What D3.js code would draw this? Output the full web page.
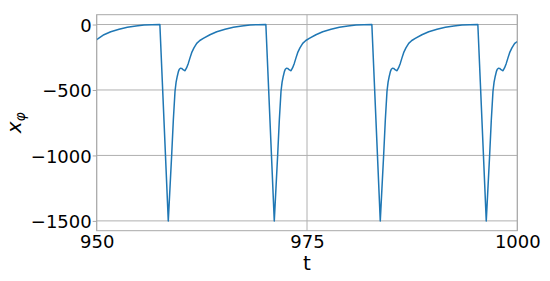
<!DOCTYPE html>
<html>
<head>
<meta charset="utf-8">
<script src="https://cdn.jsdelivr.net/npm/d3@7"></script>
<style>
    body { margin: 0; background: #fff; }
    svg { display: block; font-family: "DejaVu Sans", sans-serif; }
</style>
</head>
<body>
<svg id="chart" width="550" height="281"></svg>
<script>
// time samples (t) and signal values (x_phi)
const tValues = [
    950.00, 950.86, 951.67, 952.66, 953.64, 954.66, 955.62, 956.56, 957.51,
    958.51, 958.71, 958.91, 959.11, 959.31, 959.44, 959.58, 959.71, 959.82, 959.96,
    960.10, 960.31, 960.50, 960.68, 960.89, 961.09, 961.29, 961.56, 961.89, 962.26,
    962.67, 963.46, 964.27, 965.26, 966.24, 967.26, 968.22, 969.16, 970.11,
    971.11, 971.31, 971.51, 971.71, 971.91, 972.04, 972.18, 972.31, 972.42, 972.56,
    972.70, 972.91, 973.10, 973.28, 973.49, 973.69, 973.89, 974.16, 974.49, 974.86,
    975.27, 976.06, 976.87, 977.86, 978.84, 979.86, 980.82, 981.76, 982.71,
    983.71, 983.91, 984.11, 984.31, 984.51, 984.64, 984.78, 984.91, 985.02, 985.16,
    985.30, 985.51, 985.70, 985.88, 986.09, 986.29, 986.49, 986.76, 987.09, 987.46,
    987.87, 988.66, 989.47, 990.46, 991.44, 992.46, 993.42, 994.36, 995.31,
    996.31, 996.51, 996.71, 996.91, 997.11, 997.24, 997.38, 997.51, 997.62, 997.76,
    997.90, 998.11, 998.30, 998.48, 998.69, 998.89, 999.09, 999.36, 999.69, 1000.00
];
const xPhiValues = [
    -115, -78, -55, -36, -21, -11, -4, -1, 0,
    -1500, -1250, -1000, -730, -510, -440, -395, -360, -342, -334,
    -335, -347, -353, -332, -297, -255, -215, -178, -144, -122,
    -106, -78, -55, -36, -21, -11, -4, -1, 0,
    -1500, -1250, -1000, -730, -510, -440, -395, -360, -342, -334,
    -335, -347, -353, -332, -297, -255, -215, -178, -144, -122,
    -106, -78, -55, -36, -21, -11, -4, -1, 0,
    -1500, -1250, -1000, -730, -510, -440, -395, -360, -342, -334,
    -335, -347, -353, -332, -297, -255, -215, -178, -144, -122,
    -106, -78, -55, -36, -21, -11, -4, -1, 0,
    -1500, -1250, -1000, -730, -510, -440, -395, -360, -342, -334,
    -335, -347, -353, -332, -297, -255, -215, -178, -144, -130
];
const xTicks = [950, 975, 1000];
const yTicks = [0, -500, -1000, -1500];

const plotLeft = 96.7, plotRight = 517.3, plotTop = 14.7, plotBottom = 230.7;
const gridColor = "#b0b0b0";
const spineColor = "#a8a8a8";

const svg = d3.select("#chart");

const x = d3.scaleLinear().domain([950, 1000]).range([plotLeft, plotRight]);
const y = d3.scaleLinear().domain([-1575, 75]).range([plotBottom, plotTop]);

// grid lines
svg.append("g")
    .selectAll("line")
    .data(yTicks)
    .enter()
    .append("line")
    .attr("x1", plotLeft).attr("x2", plotRight)
    .attr("y1", d => y(d)).attr("y2", d => y(d))
    .attr("stroke", gridColor).attr("stroke-width", 1);

svg.append("g")
    .selectAll("line")
    .data(xTicks)
    .enter()
    .append("line")
    .attr("x1", d => x(d)).attr("x2", d => x(d))
    .attr("y1", plotTop).attr("y2", plotBottom)
    .attr("stroke", gridColor).attr("stroke-width", 1);

// the signal
const data = tValues.map((t, i) => ({ t: t, v: xPhiValues[i] }));
const line = d3.line()
    .x(d => x(d.t))
    .y(d => y(d.v));

svg.append("path")
    .datum(data)
    .attr("d", line)
    .attr("fill", "none")
    .attr("stroke", "#1f77b4")
    .attr("stroke-width", 1.5)
    .attr("stroke-linejoin", "round");

// frame
svg.append("rect")
    .attr("x", plotLeft).attr("y", plotTop)
    .attr("width", plotRight - plotLeft).attr("height", plotBottom - plotTop)
    .attr("fill", "none")
    .attr("stroke", spineColor).attr("stroke-width", 1);

// y axis: short ticks and labels
const yAxis = d3.axisLeft(y)
    .tickValues(yTicks)
    .tickSize(4)
    .tickPadding(1)
    .tickFormat(d => d3.format("d")(d).replace("-", "\u2212"));

const yg = svg.append("g")
    .attr("transform", `translate(${plotLeft},0)`)
    .call(yAxis);
yg.select(".domain").remove();
yg.selectAll(".tick line").attr("stroke", spineColor);
yg.selectAll(".tick text")
    .attr("font-size", 18)
    .attr("font-family", "DejaVu Sans")
    .attr("fill", "#000")
    .attr("dy", "0.38em");

// x axis labels
const xAxis = d3.axisBottom(x)
    .tickValues(xTicks)
    .tickSize(0)
    .tickPadding(5)
    .tickFormat(d3.format("d"));

const xg = svg.append("g")
    .attr("transform", `translate(0,${plotBottom})`)
    .call(xAxis);
xg.select(".domain").remove();
xg.selectAll(".tick text")
    .attr("font-size", 18)
    .attr("font-family", "DejaVu Sans")
    .attr("fill", "#000");

// axis titles
svg.append("text")
    .attr("x", (plotLeft + plotRight) / 2)
    .attr("y", 270)
    .attr("text-anchor", "middle")
    .attr("font-size", 20)
    .text("t");

const yLabel = svg.append("text")
    .attr("transform", `translate(20.7,${(plotTop + plotBottom) / 2}) rotate(-90)`)
    .attr("text-anchor", "middle")
    .attr("font-size", 20);
yLabel.append("tspan").attr("font-style", "italic").text("x");
yLabel.append("tspan")
    .attr("font-style", "italic")
    .attr("font-size", 14)
    .attr("dy", 4)
    .text("\u03c6");
</script>
</body>
</html>
